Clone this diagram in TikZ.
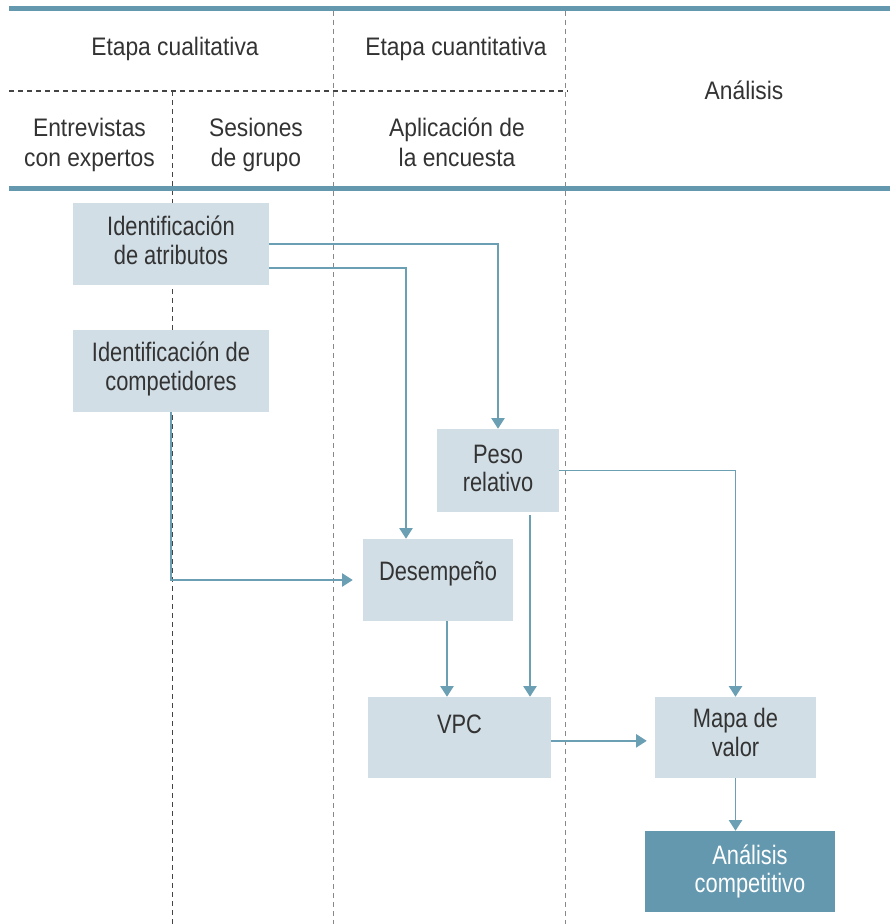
\documentclass[tikz,border=0pt]{standalone}
\usepackage{fontspec}
\setmainfont{Liberation Sans}
\newfontfamily\hdrfont{Liberation Sans}[FakeStretch=0.9]
\newfontfamily\boxfont{Liberation Sans}[FakeStretch=0.82]
\usepackage{xcolor}
\usetikzlibrary{arrows.meta,positioning}
\definecolor{inktext}{HTML}{333333}
\definecolor{rulecol}{HTML}{6398AF}
\definecolor{boxfill}{HTML}{D1DEE6}
\definecolor{darkfill}{HTML}{6398AF}
\definecolor{arrcol}{HTML}{6B9FB4}
\definecolor{dashdark}{HTML}{444444}
\definecolor{dashlight}{HTML}{888888}

\begin{document}
\begin{tikzpicture}[x=0.75pt, y=-0.75pt, >={Triangle[width=10pt,length=8pt]}]
\tikzset{hdr/.style={font=\hdrfont\fontsize{19pt}{22.5pt}\selectfont, text=inktext, align=center, anchor=base}, box/.style={fill=boxfill, text=inktext, font=\boxfont\fontsize{20pt}{21.5pt}\selectfont, align=center, inner sep=0pt, minimum height=61.5pt}, dark/.style={box, fill=darkfill, text=white}, thick rule/.style={draw=rulecol, line width=3.75pt}, sep/.style={draw=dashlight, line width=0.9pt, dash pattern=on 3.75pt off 3pt}, sepdark/.style={sep, draw=dashdark}, arr/.style={->, draw=arrcol, line width=1.1pt}}
\useasboundingbox (0,0) rectangle (890,924);
\draw[sepdark] (9,91) -- (568,91);
\draw[sepdark] (172.5,91) -- (172.5,924);
\draw[sep] (333.5,11) -- (333.5,924);
\draw[sep] (565.5,11) -- (565.5,924);
\draw[thick rule] (9,8.5) -- (890,8.5);
\draw[thick rule] (9,188.5) -- (890,188.5);
\node[hdr] (cual) at (175,56) {Etapa cualitativa};
\node[hdr] (cuan) at (456,56) {Etapa cuantitativa};
\node[hdr] (anhdr) at (744,99) {Análisis};
\node[hdr] (entr) at (89.5,166) {Entrevistas\\con expertos};
\node[hdr] (sesi) at (256,166) {Sesiones\\de grupo};
\node[hdr] (apli) at (457,166) {Aplicación de\\la encuesta};
\node[box, minimum width=147pt] (attr) at (171,244) {Identificación\\de atributos\\[-16pt]\mbox{}};
\node[box, minimum width=147pt] (comp) at (171,371) {Identificación de\\competidores\\[-14pt]\mbox{}};
\node[box, minimum width=91.5pt, minimum height=62.25pt] (peso) at (498,470.5) {Peso\\relativo\\[-18pt]\mbox{}};
\node[box, minimum width=112.5pt, text height=14.5pt, text depth=14.5pt] (desemp) at (438,580) {Desempeño};
\node[box, minimum width=137.25pt, minimum height=60.75pt, text height=14.5pt, text depth=21.25pt] (vpc) at (459.5,737.5) {VPC};
\node[box, minimum width=120.75pt, minimum height=60.75pt] (mapa) at (735.5,737.5) {Mapa de\\valor\\[-14pt]\mbox{}};
\node[dark, minimum width=142.5pt, minimum height=60.75pt] (anal) at (740,871.5) {\hspace*{15pt}Análisis\\\hspace*{15pt}competitivo};
\draw[arr] (attr.east) -| (peso.north); \draw[arr] ([yshift=-18pt]attr.east) -| ([xshift=-24pt]desemp.north);
\draw[arr, shorten >=7.5pt] (comp.south) |- (desemp.west);
\draw[arr] (peso.east) -| (mapa.north); \draw[arr, shorten <=2.25pt] ([xshift=24pt]peso.south) -- ([xshift=24pt]peso.south |- vpc.north);
\draw[arr] ([xshift=6.75pt]desemp.south) -- ([xshift=6.75pt]desemp.south |- vpc.north);
\draw[arr, shorten >=6pt] ([yshift=-2.5pt]vpc.east) -- ([yshift=-2.5pt]mapa.west);
\draw[arr] (mapa.south) -- (mapa.south |- anal.north);
\end{tikzpicture}
\end{document}
